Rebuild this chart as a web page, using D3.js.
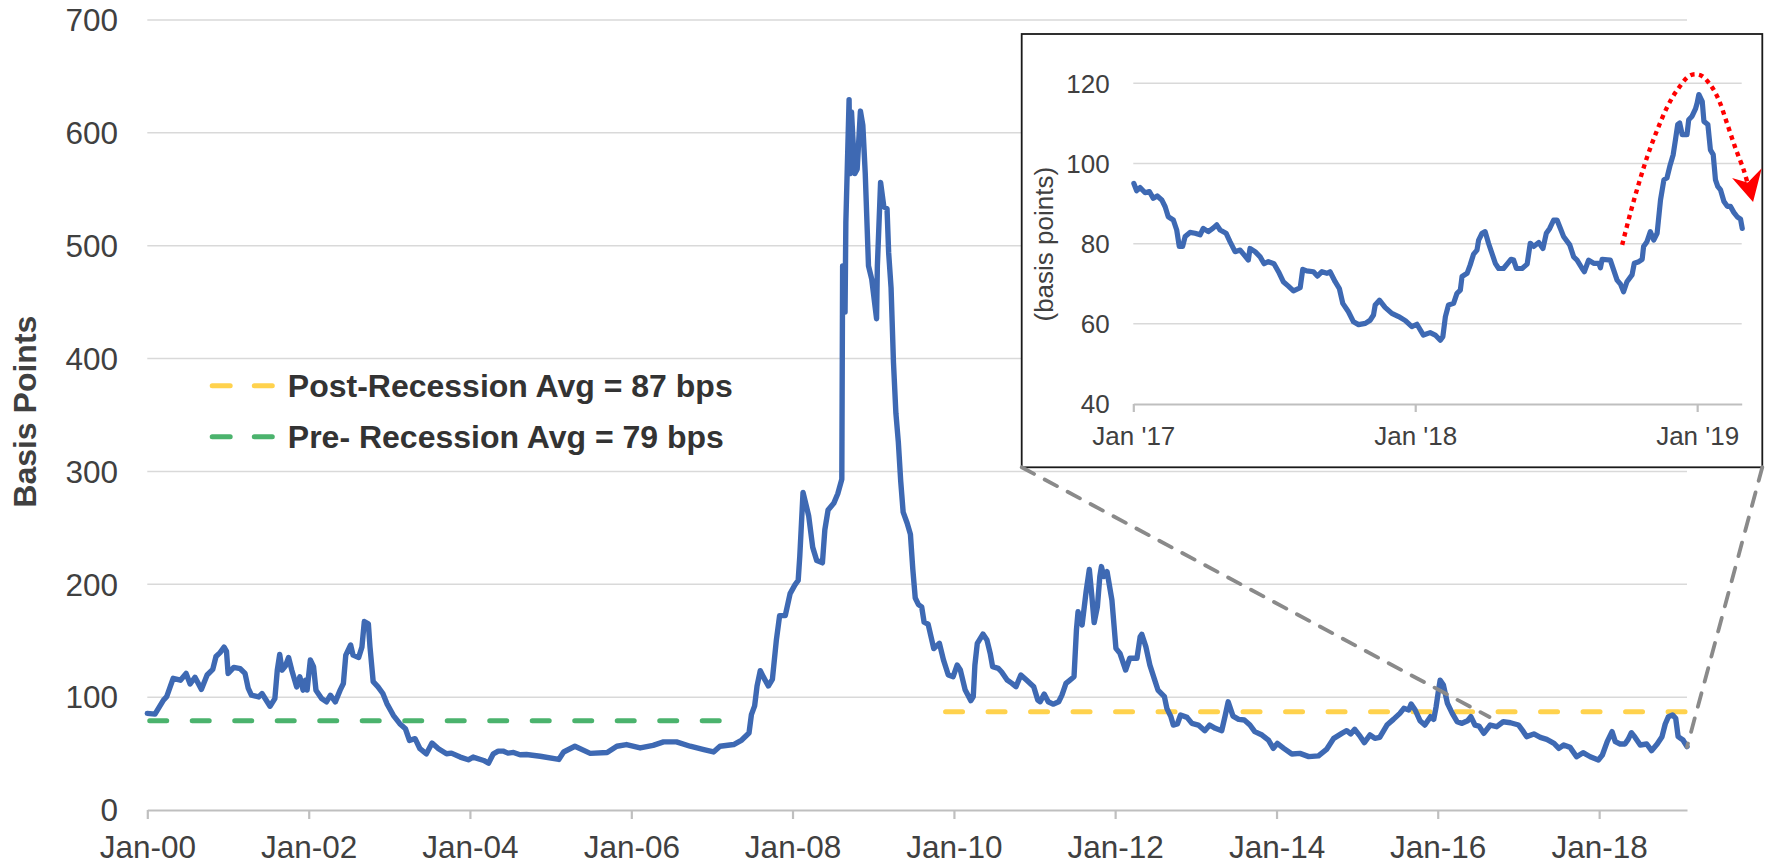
<!DOCTYPE html>
<html><head><meta charset="utf-8">
<script src="https://cdn.jsdelivr.net/npm/d3@7"></script>
<style>html,body{margin:0;padding:0;background:#fff;} svg{display:block;}</style>
</head><body>
<script>
// ---------- DATA ----------
// main series: [decimal year, basis points]
const mainSeries = [
[2000.00,85.6],[2000.095,85],[2000.20,97.4],[2000.24,100.4],[2000.32,116.7],[2000.41,115],[2000.48,121],[2000.53,111.6],[2000.59,117.6],[2000.67,106.9],[2000.74,119.6],[2000.81,124.6],[2000.85,136],[2000.90,139.5],[2000.95,144.3],[2000.98,140.5],
[2001.00,121],[2001.07,126.4],[2001.15,125.2],[2001.21,121],[2001.25,107.7],[2001.29,101.7],[2001.38,100.2],[2001.42,103.2],[2001.52,91.9],[2001.58,98.7],[2001.61,123.9],[2001.64,137.9],[2001.67,123.9],[2001.71,127.5],[2001.75,135.2],[2001.79,123.9],[2001.85,109.1],[2001.89,118],[2001.93,106.2],[2001.96,115],[2001.98,106.2],
[2002.02,132.9],[2002.06,127],[2002.09,106.2],[2002.16,98.7],[2002.22,95.8],[2002.27,101.7],[2002.33,95.8],[2002.39,106.2],[2002.43,112.1],[2002.46,137.3],[2002.52,146.2],[2002.55,137.3],[2002.62,135.2],[2002.66,144.3],[2002.69,167],[2002.74,165],[2002.76,144.8],[2002.80,113.7],[2002.86,109.1],[2002.92,103.2],[2002.97,94.3],
[2003.05,83.9],[2003.13,76.5],[2003.20,72],[2003.25,61.7],[2003.32,63.2],[2003.38,54.3],[2003.46,49.8],[2003.53,59.3],[2003.61,54.3],[2003.71,49.8],[2003.77,50.4],[2003.88,46.9],[2003.98,44.5],
[2004.04,46.9],[2004.17,43.9],[2004.23,41.5],[2004.29,49.8],[2004.35,52.2],[2004.41,52.2],[2004.47,50.4],[2004.54,51],[2004.62,49],[2004.70,49.2],[2004.87,47.6],
[2005.10,44.8],[2005.16,51.4],[2005.30,56.5],[2005.49,50.2],[2005.70,51],[2005.82,56.5],[2005.94,58],
[2006.11,55],[2006.27,57.3],[2006.40,60.4],[2006.56,60.4],[2006.73,56.5],[2006.90,53.4],
[2007.02,51.4],[2007.10,56.5],[2007.27,58],[2007.37,62],[2007.46,68.2],[2007.49,84.5],[2007.53,92.3],[2007.56,109.9],[2007.60,123.5],[2007.64,117.7],[2007.70,109.9],[2007.75,115.7],[2007.80,150.8],[2007.84,172.2],[2007.91,172.2],[2007.97,191.7],
[2008.03,199.5],[2008.07,203.4],[2008.09,224.9],[2008.13,281.4],[2008.17,269.7],[2008.20,260.7],[2008.25,232.7],[2008.30,221],[2008.37,219],[2008.40,248.3],[2008.44,265.8],[2008.51,271.7],[2008.56,280.2],[2008.61,293.1],[2008.62,482.1],[2008.64,482],[2008.65,441.2],[2008.66,521],[2008.70,629.4],[2008.71,563.9],[2008.73,618.5],[2008.77,563.9],[2008.80,567.8],[2008.84,619.3],[2008.87,606.8],[2008.90,563.9],[2008.94,482.1],[2008.98,470.4],
[2009.04,435.3],[2009.05,482],[2009.09,556.1],[2009.13,534.6],[2009.17,532.7],[2009.19,493.8],[2009.22,462.6],[2009.25,396.3],[2009.28,351.5],[2009.31,326.2],[2009.34,291.1],[2009.37,263.9],[2009.42,254.1],[2009.46,244.4],[2009.49,213.2],[2009.52,187.8],[2009.56,182],[2009.60,180],[2009.63,166.4],[2009.68,164.6],[2009.75,143],[2009.82,147.7],[2009.87,133],[2009.93,119.6],[2009.99,118.1],
[2010.04,128.4],[2010.08,124],[2010.14,106.3],[2010.21,96.9],[2010.24,100.4],[2010.26,128.4],[2010.29,147.7],[2010.36,155.9],[2010.41,150.6],[2010.45,138.8],[2010.48,127],[2010.55,125.5],[2010.59,122.5],[2010.66,115.1],[2010.72,112.2],[2010.77,109.2],[2010.83,119.6],[2010.90,115.1],[2010.99,109.2],
[2011.04,97.4],[2011.07,95.9],[2011.12,102.7],[2011.17,95.9],[2011.23,93.8],[2011.30,95.9],[2011.34,101.8],[2011.39,112.2],[2011.44,115.1],[2011.49,118.1],[2011.52,159.5],[2011.54,175.7],[2011.59,163.9],[2011.64,193.5],[2011.68,213.2],[2011.71,190.5],[2011.74,166],[2011.78,180.2],[2011.81,206.8],[2011.83,215.7],[2011.86,206.8],[2011.90,211.2],[2011.96,186.1],
[2012.01,143.2],[2012.06,138.8],[2012.13,124],[2012.18,134.4],[2012.27,134.4],[2012.31,153.6],[2012.33,155.7],[2012.38,144.7],[2012.43,128.4],[2012.49,115.1],[2012.53,106.3],[2012.61,100.4],[2012.64,90.1],[2012.69,82.7],[2012.72,75.3],[2012.77,76.2],[2012.81,84.2],[2012.89,82.1],[2012.95,76.8],
[2013.03,75.3],[2013.11,70.3],[2013.17,75.3],[2013.24,72.4],[2013.32,70.3],[2013.36,82.7],[2013.40,95.9],[2013.46,83.2],[2013.53,80.3],[2013.60,79.7],[2013.67,75.3],[2013.73,69.4],[2013.82,66.4],[2013.90,62],[2013.96,54.6],
[2014.01,59],[2014.09,54.6],[2014.19,49.6],[2014.29,50.2],[2014.40,47.3],[2014.52,48],[2014.62,53.7],[2014.71,63.5],[2014.81,67.9],[2014.87,70.3],[2014.92,67.4],[2014.97,71.5],
[2015.04,65],[2015.09,59.7],[2015.16,66.5],[2015.22,63.5],[2015.28,64.4],[2015.37,75.3],[2015.45,80.3],[2015.53,85.6],[2015.58,90.1],[2015.64,88.6],[2015.67,93.9],[2015.72,88.6],[2015.78,79.1],[2015.84,75.3],[2015.91,82.7],[2015.95,80.3],[2015.98,91.5],
[2016.01,106.3],[2016.03,115.1],[2016.07,110.7],[2016.12,94.5],[2016.18,85.6],[2016.24,78.2],[2016.30,76.8],[2016.37,79.1],[2016.41,82.7],[2016.46,75.3],[2016.51,74.4],[2016.57,67.9],[2016.65,75.3],[2016.73,73.8],[2016.81,78.2],[2016.90,77.3],
[2017.00,75.3],[2017.06,69.4],[2017.10,65],[2017.19,67.4],[2017.27,64.4],[2017.35,62.6],[2017.44,59.1],[2017.50,54.6],[2017.56,57.6],[2017.64,55.5],[2017.72,47.2],[2017.80,50.8],[2017.89,47.2],[2017.99,44.3],
[2018.04,48.7],[2018.10,60.6],[2018.16,69.4],[2018.20,60.6],[2018.26,58.5],[2018.32,58.5],[2018.36,62.6],[2018.40,68.5],[2018.44,65],[2018.51,57.6],[2018.59,58.5],[2018.65,52.6],[2018.72,58.5],[2018.78,65],[2018.82,76.2],[2018.86,82.7],[2018.91,84.2],[2018.95,81.2],[2018.98,65],
[2019.04,62],[2019.09,56.2]
];
// inset series (Jan '17 - Feb '19)
const insetSeries = [
[2017.002,95.0],[2017.012,93.2],[2017.024,94.0],[2017.042,92.7],[2017.057,93.0],[2017.071,91.3],[2017.085,91.9],[2017.101,90.9],[2017.113,89.2],[2017.124,86.7],[2017.142,85.9],[2017.154,83.4],[2017.163,79.3],[2017.175,79.3],[2017.184,81.8],[2017.201,82.8],[2017.219,82.6],[2017.237,82.2],[2017.248,83.8],[2017.266,83.0],[2017.282,83.8],[2017.296,84.7],[2017.308,83.4],[2017.329,82.6],[2017.343,80.5],[2017.361,78.0],[2017.379,78.4],[2017.393,77.2],[2017.408,75.9],[2017.414,78.8],[2017.432,78.0],[2017.450,76.7],[2017.464,75.0],[2017.479,75.5],[2017.499,75.0],[2017.515,73.0],[2017.532,70.5],[2017.550,69.4],[2017.568,68.2],[2017.592,69.0],[2017.601,73.6],[2017.615,73.2],[2017.639,73.0],[2017.653,71.9],[2017.669,73.0],[2017.687,72.6],[2017.698,73.0],[2017.716,70.5],[2017.731,68.8],[2017.743,65.1],[2017.763,63.0],[2017.781,60.5],[2017.799,59.8],[2017.823,60.1],[2017.840,60.9],[2017.852,62.2],[2017.858,64.7],[2017.873,65.9],[2017.893,64.1],[2017.917,62.6],[2017.941,61.8],[2017.965,60.8],[2017.988,59.3],
[2018.006,59.9],[2018.029,57.2],[2018.053,57.8],[2018.071,57.2],[2018.089,55.9],[2018.098,56.8],[2018.107,61.8],[2018.118,64.7],[2018.136,65.1],[2018.148,67.6],[2018.160,68.4],[2018.166,71.8],[2018.184,72.6],[2018.195,74.7],[2018.207,77.4],[2018.219,78.4],[2018.225,80.9],[2018.237,82.6],[2018.248,83.0],[2018.260,80.1],[2018.272,77.6],[2018.284,75.1],[2018.296,73.8],[2018.313,73.8],[2018.328,75.1],[2018.340,76.1],[2018.349,75.9],[2018.359,73.8],[2018.379,73.8],[2018.397,74.9],[2018.408,80.1],[2018.420,79.3],[2018.438,80.3],[2018.453,78.8],[2018.465,82.6],[2018.477,83.8],[2018.491,85.9],[2018.503,85.9],[2018.515,83.8],[2018.526,81.8],[2018.548,79.7],[2018.562,76.7],[2018.574,75.9],[2018.592,73.8],[2018.600,73.0],[2018.615,75.9],[2018.633,75.1],[2018.651,75.1],[2018.657,74.0],[2018.663,76.1],[2018.692,75.9],[2018.704,73.4],[2018.716,70.9],[2018.728,69.9],[2018.739,68.0],[2018.751,70.5],[2018.769,72.2],[2018.777,75.1],[2018.793,75.5],[2018.805,76.1],[2018.810,79.3],[2018.822,80.5],[2018.834,83.0],[2018.846,80.9],[2018.858,82.6],[2018.870,90.9],[2018.882,95.9],[2018.893,96.4],[2018.903,99.3],[2018.915,102.2],[2018.923,105.9],[2018.931,109.7],[2018.938,110.1],[2018.947,107.2],[2018.964,107.2],[2018.970,110.9],[2018.982,111.8],[2018.994,113.6],
[2019.000,115.1],[2019.006,117.2],[2019.018,115.5],[2019.024,110.5],[2019.038,109.7],[2019.047,103.4],[2019.057,102.2],[2019.065,95.9],[2019.073,94.3],[2019.083,93.4],[2019.095,90.5],[2019.107,89.3],[2019.118,89.3],[2019.130,87.8],[2019.142,86.7],[2019.154,86.1],[2019.160,83.8]
];
const mainYTicks = [0,100,200,300,400,500,600,700];
const insetYTicks = [40,60,80,100,120];
const mainXDomain = [2000.0, 2019.09];
const insetXDomain = [2017.0, 2019.158];
// average lines: [value, start year, end year]
const preRecessionAvg = [79, 2000.03, 2007.40];
const postRecessionAvg = [87, 2009.896, 2019.08];
const legendLabels = ["Post-Recession Avg = 87 bps", "Pre- Recession Avg = 79 bps"];
// zoom connector targets on main chart [year, value]
const zoomTargets = [[2016.64, 82.4], [2019.09, 55.8]];
// red dotted arrow in inset coordinates [year, value]
const arrowCurve = [[2018.734,79.7],[2018.763,87.6],[2018.793,95.0],[2018.823,101.7],[2018.858,108.3],[2018.894,114.1],[2018.929,118.3],[2018.976,122.0],[2019.012,122.0],[2019.047,119.6],[2019.077,115.8],[2019.106,110.0],[2019.136,103.8],[2019.165,98.4],[2019.177,95.5]];
const arrowHead = [[2019.132,96.0],[2019.197,90.8],[2019.224,98.2],[2019.180,95.0]];

// ---------- HELPERS ----------
function yd(y){const yr=Math.floor(y);const s=Date.UTC(yr,0,1),e=Date.UTC(yr+1,0,1);return new Date(s+(y-yr)*(e-s));}
const FONT = "'Liberation Sans', Arial, Helvetica, sans-serif";
const TXT = "#404040";
const W=1765,H=865;

const svg = d3.select("body").append("svg").attr("width",W).attr("height",H).style("font-family",FONT);

// ---------- MAIN CHART ----------
const x = d3.scaleUtc().domain(mainXDomain.map(yd)).range([147.3,1687]);
const y = d3.scaleLinear().domain([0,700]).range([810,20]);

const gMain = svg.append("g");
gMain.append("g").selectAll("line").data(mainYTicks.filter(d=>d>0)).join("line")
  .attr("x1",x.range()[0]).attr("x2",x.range()[1])
  .attr("y1",d=>y(d)).attr("y2",d=>y(d))
  .attr("stroke","#d9d9d9").attr("stroke-width",1.5);
gMain.append("g").selectAll("text").data(mainYTicks).join("text")
  .attr("x",118).attr("y",d=>y(d)).attr("dy","0.358em")
  .attr("text-anchor","end").attr("font-size",31.5).attr("fill",TXT).text(d=>d);
const xAxis = d3.axisBottom(x).ticks(d3.utcYear.every(2)).tickFormat(d3.utcFormat("%b-%y")).tickSize(9).tickSizeOuter(0);
const gx = gMain.append("g").attr("transform",`translate(0,${y(0)})`).call(xAxis);
gx.select(".domain").attr("stroke","#bfbfbf").attr("stroke-width",2.2);
gx.selectAll(".tick line").attr("stroke","#bfbfbf").attr("stroke-width",2.2);
gx.selectAll(".tick text").attr("font-size",31.5).attr("fill",TXT).attr("font-family",FONT).attr("y",null).attr("dy",null)
  .attr("transform","translate(0,48)");
svg.append("text").attr("transform","translate(36,411.7) rotate(-90)").attr("text-anchor","middle")
  .attr("font-size",32).attr("font-weight","bold").attr("fill",TXT).text("Basis Points");

const dash = {w:5, arr:"17 25.5"};
function avgLine(a,color){
  gMain.append("line").attr("x1",x(yd(a[1]))).attr("x2",x(yd(a[2])))
    .attr("y1",y(a[0])).attr("y2",y(a[0]))
    .attr("stroke",color).attr("stroke-width",dash.w).attr("stroke-dasharray",dash.arr).attr("stroke-linecap","round");
}
const YELLOW="#FFD24D", GREEN="#4BB36D", BLUE="#3E69B3";
avgLine(preRecessionAvg,GREEN);
avgLine(postRecessionAvg,YELLOW);

const line = d3.line().x(d=>x(yd(d[0]))).y(d=>y(d[1]));
gMain.append("path").datum(mainSeries).attr("d",line).attr("fill","none")
  .attr("stroke",BLUE).attr("stroke-width",5.4).attr("stroke-linejoin","round").attr("stroke-linecap","round");

const legY=[385.7,436.8], legColors=[YELLOW,GREEN];
legendLabels.forEach((t,i)=>{
  svg.append("line").attr("x1",212.2).attr("x2",272.3).attr("y1",legY[i]).attr("y2",legY[i])
    .attr("stroke",legColors[i]).attr("stroke-width",dash.w).attr("stroke-dasharray","18 24.1").attr("stroke-linecap","round");
  svg.append("text").attr("x",287.8).attr("y",legY[i]).attr("dy","0.358em")
    .attr("font-size",32).attr("font-weight","bold").attr("fill","#333").text(t);
});

// ---------- INSET ----------
const box = {x0:1021.7,y0:34,x1:1762.3,y1:467.3};
svg.append("rect").attr("x",box.x0).attr("y",box.y0).attr("width",box.x1-box.x0).attr("height",box.y1-box.y0)
  .attr("fill","#fff").attr("stroke","#1a1a1a").attr("stroke-width",1.8);

const CONN="#8a8a8a";
[[box.x0,box.y1],[box.x1,box.y1]].forEach((c,i)=>{
  svg.append("line").attr("x1",c[0]).attr("y1",c[1])
    .attr("x2",x(yd(zoomTargets[i][0]))).attr("y2",y(zoomTargets[i][1]))
    .attr("stroke",CONN).attr("stroke-width",3.8).attr("stroke-dasharray","14 12").attr("stroke-linecap","round");
});

const xi = d3.scaleUtc().domain(insetXDomain.map(yd)).range([1133.3,1741.7]);
const yi = d3.scaleLinear().domain([40,120]).range([404,83.3]);
const gI = svg.append("g");
gI.append("g").selectAll("line").data(insetYTicks.filter(d=>d>40)).join("line")
  .attr("x1",xi.range()[0]).attr("x2",xi.range()[1]).attr("y1",d=>yi(d)).attr("y2",d=>yi(d))
  .attr("stroke","#d9d9d9").attr("stroke-width",1.5);
gI.append("g").selectAll("text").data(insetYTicks).join("text")
  .attr("x",1109.7).attr("y",d=>yi(d)).attr("dy","0.358em").attr("text-anchor","end")
  .attr("font-size",26).attr("fill",TXT).text(d=>d);
const xiAxis = d3.axisBottom(xi).ticks(d3.utcYear.every(1)).tickFormat(d3.utcFormat("%b '%y")).tickSize(8).tickSizeOuter(0);
const gxi = gI.append("g").attr("transform",`translate(0,${yi(40)})`).call(xiAxis);
gxi.select(".domain").attr("stroke","#bfbfbf").attr("stroke-width",2.2);
gxi.selectAll(".tick line").attr("stroke","#bfbfbf").attr("stroke-width",2.2);
gxi.selectAll(".tick text").attr("font-size",26).attr("fill",TXT).attr("font-family",FONT).attr("y",null).attr("dy",null)
  .attr("transform","translate(0,41)");
svg.append("text").attr("transform","translate(1052.6,244.2) rotate(-90)").attr("text-anchor","middle")
  .attr("font-size",26).attr("fill",TXT).text("(basis points)");

const lineI = d3.line().x(d=>xi(yd(d[0]))).y(d=>yi(d[1]));
gI.append("path").datum(insetSeries).attr("d",lineI).attr("fill","none")
  .attr("stroke",BLUE).attr("stroke-width",5.2).attr("stroke-linejoin","round").attr("stroke-linecap","round");

// red dotted arrow
const arrowLine = d3.line().x(d=>xi(yd(d[0]))).y(d=>yi(d[1])).curve(d3.curveCatmullRom);
gI.append("path").datum(arrowCurve).attr("d",arrowLine).attr("fill","none")
  .attr("stroke","#ff0000").attr("stroke-width",4.4).attr("stroke-dasharray","4.4 4.4");
const headLine = d3.line().x(d=>xi(yd(d[0]))).y(d=>yi(d[1]));
gI.append("path").datum(arrowHead).attr("d",d=>headLine(d)+"Z")
  .attr("fill","#ff0000").attr("stroke","#ff0000").attr("stroke-width",1.5).attr("stroke-linejoin","miter");
</script>
</body></html>
